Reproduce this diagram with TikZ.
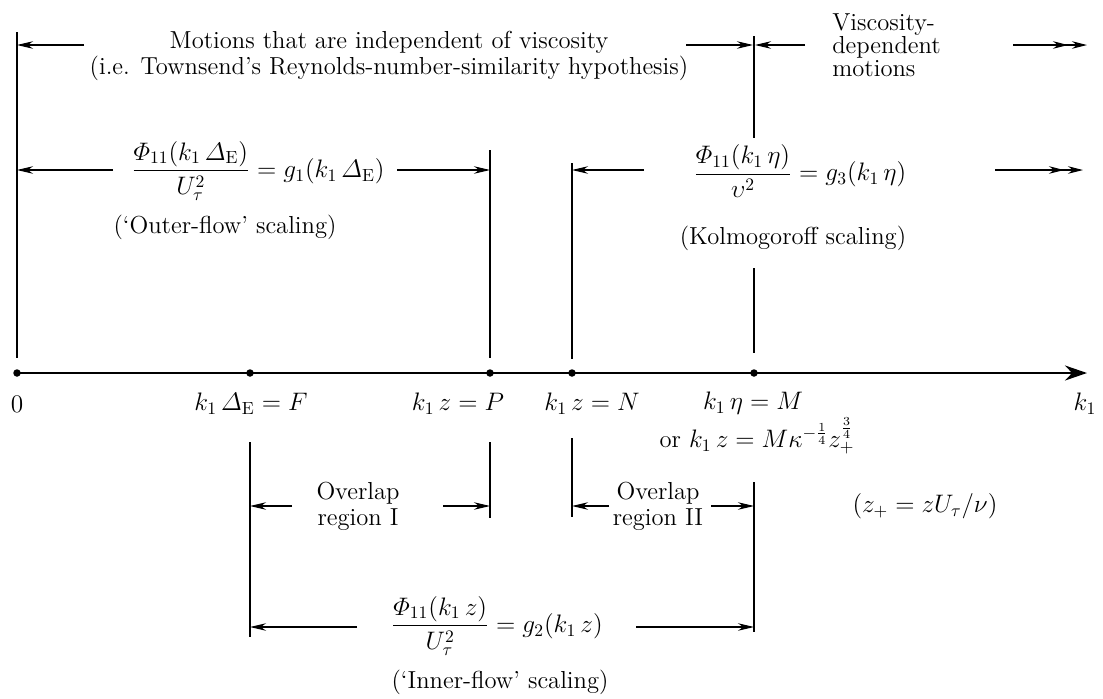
\documentclass[tikz,border=0pt]{standalone}
\usepackage{amsmath}
\usetikzlibrary{positioning,arrows.meta}
\tikzset{
  dim/.style={-{Stealth[length=3.2mm,width=1.5mm]},semithick},
  dimtwo/.style={-{Stealth[length=3mm,width=1.5mm,sep=0.8mm]Stealth[length=3mm,width=1.5mm]},semithick},
  tick/.style={line width=0.7pt},
  axis/.style={-{Stealth[length=4.4mm,width=3mm]},line width=1.5pt},
  dot/.style={circle,fill,inner sep=0pt,minimum size=1.5mm},
  lbl/.style={font=\fontsize{14}{13}\selectfont,align=center,inner sep=0pt}
}

\begin{document}
\begin{tikzpicture}[x=0.02cm,y=-0.02cm]
  \useasboundingbox (0,0) rectangle (1103,698);
  % wavenumber axis
  \node[dot] (O) at (17,373) {};
  \node[dot] (F) at (250,373) {};
  \node[dot] (P) at (490,373) {};
  \node[dot] (N) at (572,373) {};
  \node[dot] (M) at (754,373) {};
  \coordinate (kend) at (1087,373);
  \draw[axis] (O.center) -- (kend);
  \node[lbl] (Olab) at (17,404) {$0$};
  \node[lbl] (Flab) at (251,404) {$k_1\,\varDelta_{\mathrm{E}} = F$};
  \node[lbl] (Plab) at (458,404) {$k_1\,z = P$};
  \node[lbl] (Nlab) at (592,404) {$k_1\,z = N$};
  \node[lbl] (Mlab) at (753,403) {$k_1\,\eta = M$};
  \node[lbl] (Mlab2) at (757,436) {or $k_1\,z = M\kappa^{-\frac{1}{4}}z_+^{\frac{3}{4}}$};
  \node[lbl] (klab) at (1085,404) {$k_1$};

  % ticks above the axis
  \coordinate (Otop) at (17,32);   \coordinate (Obot) at (17,358);
  \coordinate (Mtop) at (754,36);  \coordinate (Mmid) at (754,138);
  \coordinate (Mlow) at (754,268); \coordinate (Mbot) at (754,353);
  \coordinate (Ptop) at (490,150); \coordinate (Pbot) at (490,358);
  \coordinate (Ntop) at (572,163); \coordinate (Nbot) at (572,359);
  \draw[tick] (Otop) -- (Obot);
  \draw[tick] (Mtop) -- (Mmid);
  \draw[tick] (Mlow) -- (Mbot);
  \draw[tick] (Ptop) -- (Pbot);
  \draw[tick] (Ntop) -- (Nbot);

  % viscosity-independent / dependent motions
  \node[lbl] (indep) at (389,56) {Motions that are independent of viscosity\\(i.e. Townsend's Reynolds-number-similarity hypothesis)};
  \node[lbl,align=left,anchor=west] (visc) at (832,45) {Viscosity-\\dependent\\motions};
  \coordinate (a1) at (84,45);   \coordinate (a1e) at (17,45);
  \coordinate (a2) at (686,45);  \coordinate (a2e) at (753,45);
  \coordinate (a3) at (805,45);  \coordinate (a3e) at (755,45);
  \coordinate (a4) at (1013,45); \coordinate (a4e) at (1087,45);
  \draw[dim] (a1) -- (a1e);
  \draw[dim] (a2) -- (a2e);
  \draw[dim] (a3) -- (a3e);
  \draw[dimtwo] (a4) -- (a4e);

  % outer-flow and Kolmogoroff scaling
  \node[lbl] (outer) at (258,171) {$\dfrac{\varPhi_{11}(k_1\,\varDelta_{\mathrm{E}})}{U_\tau^2} = g_1(k_1\,\varDelta_{\mathrm{E}})$};
  \node[lbl] (outertxt) at (225,227) {(`Outer-flow' scaling)};
  \node[lbl] (kolm) at (800,171) {$\dfrac{\varPhi_{11}(k_1\,\eta)}{\upsilon^2} = g_3(k_1\,\eta)$};
  \node[lbl] (kolmtxt) at (793,238) {(Kolmogoroff scaling)};
  \coordinate (b1) at (113,170); \coordinate (b1e) at (17,170);
  \coordinate (b2) at (397,170); \coordinate (b2e) at (490,170);
  \coordinate (b3) at (644,170); \coordinate (b3e) at (572,170);
  \coordinate (b4) at (995,170); \coordinate (b4e) at (1083,170);
  \draw[dim] (b1) -- (b1e);
  \draw[dim] (b2) -- (b2e);
  \draw[dim] (b3) -- (b3e);
  \draw[dimtwo] (b4) -- (b4e);

  % ticks below the axis
  \coordinate (Fu) at (250,442); \coordinate (Fd) at (250,637);
  \coordinate (Pu) at (490,442); \coordinate (Pd) at (490,518);
  \coordinate (Nu) at (572,438); \coordinate (Nd) at (572,517);
  \coordinate (Mu) at (754,482); \coordinate (Md) at (754,632);
  \draw[tick] (Fu) -- (Fd);
  \draw[tick] (Pu) -- (Pd);
  \draw[tick] (Nu) -- (Nd);
  \draw[tick] (Mu) -- (Md);

  % overlap regions
  \node[lbl,font=\fontsize{14}{14.8}\selectfont] (ovl1) at (358,506) {Overlap\\region I};
  \node[lbl,font=\fontsize{14}{14.8}\selectfont] (ovl2) at (658,506) {Overlap\\region II};
  \node[lbl] (zplus) at (925,506) {$(z_+ = zU_\tau/\nu)$};
  \coordinate (c1) at (292,506); \coordinate (c1e) at (250,506);
  \coordinate (c2) at (443,506); \coordinate (c2e) at (490,506);
  \coordinate (c3) at (609,506); \coordinate (c3e) at (572,506);
  \coordinate (c4) at (711,506); \coordinate (c4e) at (754,506);
  \draw[dim] (c1) -- (c1e);
  \draw[dim] (c2) -- (c2e);
  \draw[dim] (c3) -- (c3e);
  \draw[dim] (c4) -- (c4e);

  % inner-flow scaling
  \node[lbl] (inner) at (497,626) {$\dfrac{\varPhi_{11}(k_1\,z)}{U_\tau^2} = g_2(k_1\,z)$};
  \node[lbl] (innertxt) at (500,682) {(`Inner-flow' scaling)};
  \coordinate (d1) at (357,627); \coordinate (d1e) at (250,627);
  \coordinate (d2) at (636,627); \coordinate (d2e) at (754,627);
  \draw[dim] (d1) -- (d1e);
  \draw[dim] (d2) -- (d2e);
\end{tikzpicture}
\end{document}
